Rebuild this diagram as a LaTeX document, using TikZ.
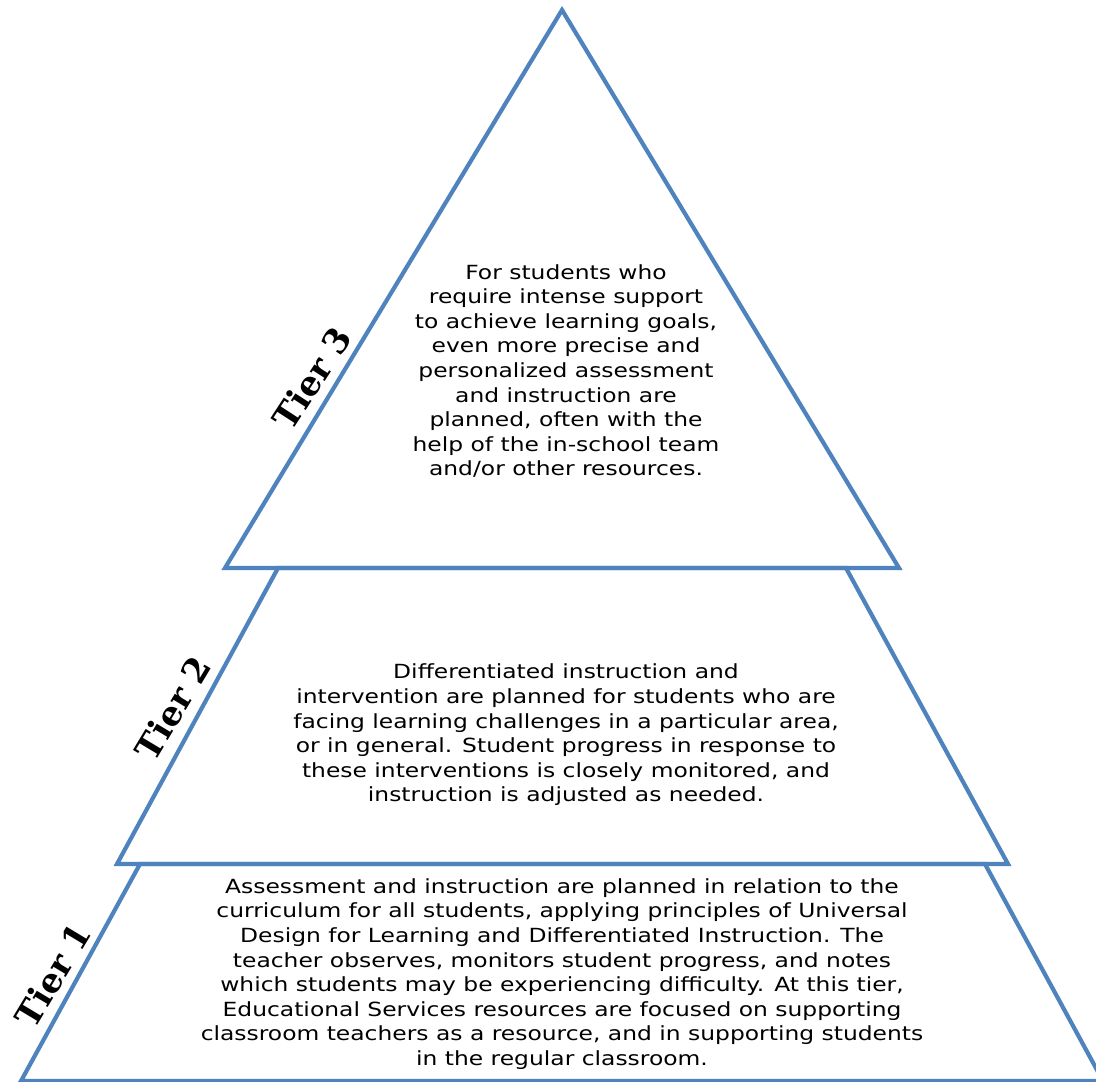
\documentclass[tikz,border=0pt]{standalone}
\usepackage{fontspec}
\setmainfont{DejaVu Sans}[FakeStretch=1.2]
\newfontfamily\tierfont{DejaVu Serif}
\definecolor{tierblue}{RGB}{79,131,190}

\begin{document}
\begin{tikzpicture}[x=1pt,y=-1pt]

    \useasboundingbox (0,0) rectangle (1096,1082);

    \begin{scope}[every path/.style={draw=tierblue,line width=4.2pt,line join=miter}]
        % Tier 3 triangle %
        \draw (562,10) -- (899,568) -- (225,568) -- cycle;
        % Tier 2 band %
        \draw (278,568) -- (846,568) -- (1008,864) -- (117,864) -- cycle;
        % Tier 1 band %
        \draw (140,864) -- (985,864) -- (1103,1081) -- (21,1081) -- cycle;
    \end{scope}

    \begin{scope}[every node/.style={align=center,inner sep=0pt,font=\fontsize{19.5}{24.6}\selectfont}]
        \node (t3) at (566,371) {For students who\\require intense support\\to achieve learning goals,\\even more precise and\\personalized assessment\\and instruction are\\planned, often with the\\help of the in-school team\\and/or other resources.};
        \node (t2) at (566,735) {Differentiated instruction and\\intervention are planned for students who are\\facing learning challenges in a particular area,\\or in general. Student progress in response to\\these interventions is closely monitored, and\\instruction is adjusted as needed.};
        \node (t1) at (562,974) {Assessment and instruction are planned in relation to the\\curriculum for all students, applying principles of Universal\\Design for Learning and Differentiated Instruction. The\\teacher observes, monitors student progress, and notes\\which students may be experiencing difficulty. At this tier,\\Educational Services resources are focused on supporting\\classroom teachers as a resource, and in supporting students\\in the regular classroom.};
    \end{scope}

    \begin{scope}[every node/.style={inner sep=0pt,font=\tierfont\bfseries\fontsize{34}{36}\selectfont}]
        \node[rotate=57] (l3) at (312,378) {Tier 3};
        \node[rotate=59] (l2) at (173,708) {Tier 2};
        \node[rotate=59] (l1) at (53,975) {Tier 1};
    \end{scope}

\end{tikzpicture}
\end{document}
